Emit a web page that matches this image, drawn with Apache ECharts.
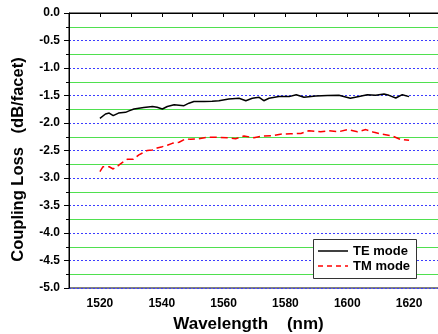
<!DOCTYPE html>
<html><head><meta charset="utf-8">
<script src="https://cdn.jsdelivr.net/npm/echarts@6/dist/echarts.min.js"></script>
<style>html,body{margin:0;padding:0;background:#fff}#c{width:438px;height:334px}</style>
</head><body><div id="c"></div>
<script>
var xTitle = 'Wavelength    (nm)';
var yTitle = 'Coupling Loss   (dB/facet)';
var seriesNames = ['TE mode', 'TM mode'];
var teWl = [1520,1521.8,1523,1524.3,1526,1528.3,1529.4,1531,1534.2,1537,1538.5,1540.2,1541.8,1544,1547.2,1548.8,1550.4,1553.7,1556.3,1558.5,1561.7,1565,1567.2,1569.3,1571.5,1573,1574.7,1577.9,1581.2,1583.5,1586,1589.8,1593.6,1597.3,1601,1603.8,1606.5,1609.2,1611.9,1613.5,1615.7,1617.8,1620];
var teLoss = [-1.915,-1.836,-1.82,-1.867,-1.82,-1.806,-1.78,-1.745,-1.72,-1.70,-1.715,-1.745,-1.70,-1.67,-1.685,-1.64,-1.61,-1.61,-1.605,-1.595,-1.564,-1.55,-1.595,-1.55,-1.533,-1.595,-1.55,-1.52,-1.52,-1.485,-1.533,-1.51,-1.50,-1.497,-1.55,-1.52,-1.485,-1.497,-1.473,-1.497,-1.545,-1.485,-1.52];
var tmWl = [1520,1521,1523,1524.3,1525.8,1527.2,1528.8,1530.8,1532.6,1535.3,1536.9,1538.5,1540.2,1541.8,1543.4,1545.6,1547.7,1549.4,1551.5,1554.7,1558,1561.2,1563.9,1566.6,1569.8,1572.5,1575.8,1579,1581.7,1585,1587.6,1591.4,1594.1,1597.3,1600,1603.3,1606,1608.7,1611.4,1614.6,1617.3,1620];
var tmLoss = [-2.885,-2.795,-2.795,-2.836,-2.78,-2.72,-2.66,-2.66,-2.58,-2.50,-2.49,-2.455,-2.43,-2.405,-2.37,-2.35,-2.29,-2.297,-2.29,-2.26,-2.26,-2.267,-2.285,-2.236,-2.267,-2.235,-2.23,-2.2,-2.195,-2.19,-2.14,-2.158,-2.14,-2.158,-2.12,-2.158,-2.12,-2.17,-2.205,-2.236,-2.30,-2.315];

function pairs(xs, ys){ return xs.map(function(x,i){ return [x, ys[i]]; }); }
var F = 'Liberation Sans, Arial, sans-serif';
var chart = echarts.init(document.getElementById('c'), null, {renderer:'canvas'});
chart.setOption({
  animation:false,
  backgroundColor:'#fff',
  grid:{left:69, top:13, width:371, height:275, show:true, borderColor:'#000', borderWidth:1,
        backgroundColor:'transparent', outerBoundsMode:'none', containLabel:false},
  xAxis:{
    type:'value', min:1510, max:1630, interval:10,
    name:xTitle, nameLocation:'middle', nameGap:28,
    nameTextStyle:{fontFamily:F, fontWeight:'bold', fontSize:17, color:'#000', padding:[0,12,0,0]},
    axisLine:{lineStyle:{color:'#000', width:1}},
    axisTick:{show:true, inside:false, length:4, lineStyle:{color:'#000'}},
    axisLabel:{fontFamily:F, fontWeight:'bold', fontSize:12, color:'#000', margin:10,
      formatter:function(v){ return (Math.round(v)%20===0) ? String(Math.round(v)) : ''; }},
    splitLine:{show:false}
  },
  yAxis:{
    type:'value', min:-5, max:0, interval:0.5,
    name:yTitle, nameLocation:'middle', nameGap:42,
    nameTextStyle:{fontFamily:F, fontWeight:'bold', fontSize:16.5, color:'#000', padding:[0,18,0,0]},
    axisLine:{show:true, lineStyle:{color:'#000', width:1}},
    axisTick:{show:true, inside:false, length:5, lineStyle:{color:'#000'}},
    minorTick:{show:true, splitNumber:2, length:3, lineStyle:{color:'#000'}},
    axisLabel:{fontFamily:F, fontWeight:'bold', fontSize:12, color:'#000', margin:9,
      formatter:function(v){ return v.toFixed(1); }},
    splitLine:{show:true, lineStyle:{color:'#3b3bff', width:1, type:[2,2]}},
    minorSplitLine:{show:true, lineStyle:{color:'#4fe04f', width:1}}
  },
  graphic:[
    {type:'rect', left:313, top:239, z:100, shape:{width:103, height:39},
     style:{fill:'#fff', stroke:'#333', lineWidth:1}},
    {type:'line', z:101, shape:{x1:318, y1:251, x2:348, y2:251}, style:{stroke:'#000', lineWidth:1.5}},
    {type:'line', z:101, shape:{x1:318, y1:266, x2:348, y2:266}, style:{stroke:'#ff0000', lineWidth:1.5, lineDash:[5,4]}},
    {type:'text', z:101, x:353, y:251, style:{text:seriesNames[0], fill:'#000', font:'bold 13px ' + F, textVerticalAlign:'middle', verticalAlign:'middle'}},
    {type:'text', z:101, x:353, y:266, style:{text:seriesNames[1], fill:'#000', font:'bold 13px ' + F, textVerticalAlign:'middle', verticalAlign:'middle'}}
  ],
  series:[
    {name:seriesNames[0], type:'line', data:pairs(teWl, teLoss), showSymbol:false, symbol:'none',
     lineStyle:{color:'#000', width:1.5}, itemStyle:{color:'#000'}},
    {name:seriesNames[1], type:'line', data:pairs(tmWl, tmLoss), showSymbol:false, symbol:'none',
     lineStyle:{color:'#ff0000', width:1.5, type:[7,4]}, itemStyle:{color:'#ff0000'}}
  ]
});
</script></body></html>
